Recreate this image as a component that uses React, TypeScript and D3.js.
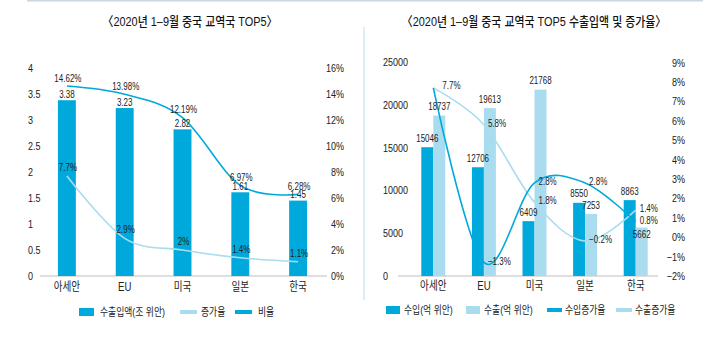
import React from 'react';
import * as d3 from 'd3';

// ---------- data ----------
const categories = ['아세안', 'EU', '미국', '일본', '한국'];

// left chart
const tradeTotal = [3.38, 3.23, 2.82, 1.61, 1.45];
const tradeTotalLabels = ['3.38', '3.23', '2.82', '1.61', '1.45'];
const tradeGrowth = [7.7, 2.9, 2, 1.4, 1.1];
const tradeGrowthLabels = ['7.7%', '2.9%', '2%', '1.4%', '1.1%'];
const tradeShare = [14.62, 13.98, 12.19, 6.97, 6.28];
const tradeShareLabels = ['14.62%', '13.98%', '12.19%', '6.97%', '6.28%'];
const leftTicks = [0, 0.5, 1, 1.5, 2, 2.5, 3, 3.5, 4];
const leftTickLabels = ['0', '0.5', '1', '1.5', '2', '2.5', '3', '3.5', '4'];
const leftPctTicks = [0, 2, 4, 6, 8, 10, 12, 14, 16];

// right chart
const importsV = [15046, 12706, 6409, 8550, 8863];
const exportsV = [18737, 19613, 21768, 7253, 5662];
const importGrowth = [7.7, -1.3, 2.8, 2.8, 0.8];
const exportGrowth = [7.7, 5.8, 1.8, -0.2, 1.4];
const importGrowthLabels = ['7.7%', '−1.3%', '2.8%', '2.8%', '0.8%'];
const exportGrowthLabels = ['', '5.8%', '1.8%', '−0.2%', '1.4%'];
const rightTicks = [0, 5000, 10000, 15000, 20000, 25000];
const rightPctTicks = [-2, -1, 0, 1, 2, 3, 4, 5, 6, 7, 8, 9];

const titleLeft = '〈2020년 1–9월 중국 교역국 TOP5〉';
const titleRight = '〈2020년 1–9월 중국 교역국 TOP5 수출입액 및 증가율〉';
const legendLeft = ['수출입액(조 위안)', '증가율', '비율'];
const legendRight = ['수입(억 위안)', '수출(억 위안)', '수입증가율', '수출증가율'];

// ---------- style ----------
const DARK = '#00a9dc';
const LIGHT = '#aadcf0';
const FONT = "'Liberation Sans','Noto Sans CJK KR',sans-serif";
const TXT = '#222';

type TProps = {
  x: number; y: number; children: React.ReactNode; size?: number;
  anchor?: 'start' | 'middle' | 'end'; sx?: number; fill?: string; weight?: number | string;
};
// y is the vertical centre of the text
function T({ x, y, children, size = 10, anchor = 'middle', sx = 0.8, fill = TXT, weight = 400 }: TProps) {
  return (
    <text
      transform={`translate(${x},${y + size * 0.36}) scale(${sx},1)`}
      fontSize={size}
      textAnchor={anchor}
      fontFamily={FONT}
      fill={fill}
      fontWeight={weight}
    >
      {children}
    </text>
  );
}

const pct = (v: number) => (v < 0 ? '−' + Math.abs(v) + '%' : v + '%');

function LeftChart() {
  const x = d3.scaleBand<string>().domain(categories).range([38, 327]).paddingInner(0.69).paddingOuter(0.345);
  const cx = (c: string) => (x(c) as number) + x.bandwidth() / 2;
  const yL = d3.scaleLinear().domain([0, 4]).range([276, 68]);
  const yR = d3.scaleLinear().domain([0, 16]).range([276, 68]);
  const curve = d3.curveCardinal.tension(0);
  const line = d3.line<number>().x((_, i) => cx(categories[i])).y((d) => yR(d)).curve(curve);

  return (
    <g>
      <T x={190} y={21} size={13} sx={0.84} fill="#111" weight={500}>{titleLeft}</T>
      {leftTicks.map((t, i) => (
        <T key={'l' + i} x={28} y={yL(t)} size={11} anchor="start" sx={0.82}>{leftTickLabels[i]}</T>
      ))}
      {leftPctTicks.map((t) => (
        <T key={'r' + t} x={344} y={yR(t)} size={11} anchor="end" sx={0.82}>{t + '%'}</T>
      ))}
      <line x1={40} x2={327} y1={yL(0)} y2={yL(0)} stroke="#bdbdbd" strokeWidth={1} />
      {categories.map((c, i) => (
        <rect key={c} x={x(c)} y={yL(tradeTotal[i])} width={x.bandwidth()} height={yL(0) - yL(tradeTotal[i])} fill={DARK} />
      ))}
      <path d={line(tradeGrowth) || ''} fill="none" stroke={LIGHT} strokeWidth={1.6} />
      <path d={line(tradeShare) || ''} fill="none" stroke={DARK} strokeWidth={1.6} />
      {categories.map((c, i) => (
        <T key={'bl' + c} x={cx(c)} y={yL(tradeTotal[i]) - 6} size={10}>{tradeTotalLabels[i]}</T>
      ))}
      {categories.map((c, i) => (
        <T key={'sl' + c} x={cx(c) + 1} y={yR(tradeShare[i]) - 8} size={10}>{tradeShareLabels[i]}</T>
      ))}
      {categories.map((c, i) => (
        <T key={'gl' + c} x={cx(c) + 1} y={yR(tradeGrowth[i]) - 8.5} size={10}>{tradeGrowthLabels[i]}</T>
      ))}
      {categories.map((c) => (
        <T key={'x' + c} x={cx(c)} y={287} size={12} sx={0.8}>{c}</T>
      ))}
      {/* legend */}
      <rect x={79} y={308} width={15} height={8} fill={DARK} />
      <T x={100} y={312} size={11} anchor="start" sx={0.8}>{legendLeft[0]}</T>
      <rect x={180} y={310} width={17} height={4} fill={LIGHT} />
      <T x={201} y={312} size={11} anchor="start" sx={0.8}>{legendLeft[1]}</T>
      <rect x={235} y={310} width={17} height={4} fill={DARK} />
      <T x={258} y={312} size={11} anchor="start" sx={0.8}>{legendLeft[2]}</T>
    </g>
  );
}

function RightChart() {
  const x = d3.scaleBand<string>().domain(categories).range([408, 661]).paddingInner(0.526).paddingOuter(0.263);
  const sub = d3.scaleBand<string>().domain(['imp', 'exp']).range([0, x.bandwidth()]);
  const cx = (c: string) => (x(c) as number) + x.bandwidth() / 2;
  const yL = d3.scaleLinear().domain([0, 25000]).range([276, 62]);
  const yR = d3.scaleLinear().domain([-2, 9]).range([276, 62.7]);
  const curve = d3.curveCardinal.tension(0);
  const line = d3.line<number>().x((_, i) => cx(categories[i])).y((d) => yR(d)).curve(curve);
  // label nudge for the 한국 export value (sits inside bar top in the reference)
  const expLabelDy = [0, 0, 0, 0, 16];

  return (
    <g>
      <T x={534} y={21} size={13} sx={0.84} fill="#111" weight={500}>{titleRight}</T>
      {rightTicks.map((t) => (
        <T key={'l' + t} x={383} y={yL(t)} size={11} anchor="start" sx={0.82}>{String(t)}</T>
      ))}
      {rightPctTicks.map((t) => (
        <T key={'r' + t} x={685} y={yR(t)} size={11} anchor="end" sx={0.82}>{pct(t)}</T>
      ))}
      <line x1={398} x2={658} y1={yL(0)} y2={yL(0)} stroke="#bdbdbd" strokeWidth={1} />
      {categories.map((c, i) => (
        <g key={c}>
          <rect x={(x(c) as number) + (sub('imp') as number)} y={yL(importsV[i])} width={sub.bandwidth()} height={yL(0) - yL(importsV[i])} fill={DARK} />
          <rect x={(x(c) as number) + (sub('exp') as number)} y={yL(exportsV[i])} width={sub.bandwidth()} height={yL(0) - yL(exportsV[i])} fill={LIGHT} />
        </g>
      ))}
      <path d={line(exportGrowth) || ''} fill="none" stroke={LIGHT} strokeWidth={1.6} />
      <path d={line(importGrowth) || ''} fill="none" stroke={DARK} strokeWidth={1.6} />
      {categories.map((c, i) => (
        <g key={'bl' + c}>
          <T x={(x(c) as number) + (sub('imp') as number) + sub.bandwidth() / 2} y={yL(importsV[i]) - 9} size={10}>{String(importsV[i])}</T>
          <T x={(x(c) as number) + (sub('exp') as number) + sub.bandwidth() / 2} y={yL(exportsV[i]) - 9 + expLabelDy[i]} size={10}>{String(exportsV[i])}</T>
        </g>
      ))}
      {categories.map((c, i) => (
        <g key={'gl' + c}>
          {exportGrowthLabels[i] && (
            <T x={cx(c) + 4} y={yR(exportGrowth[i]) - 1.5} size={10} anchor="start">{exportGrowthLabels[i]}</T>
          )}
          <T x={cx(c) + (i === 0 ? 9 : 4)} y={yR(importGrowth[i]) - (i === 0 ? 3 : 1.5)} size={10} anchor="start">{importGrowthLabels[i]}</T>
        </g>
      ))}
      {categories.map((c) => (
        <T key={'x' + c} x={cx(c)} y={286} size={12} sx={0.8}>{c}</T>
      ))}
      {/* legend */}
      <rect x={386} y={306} width={14} height={8} fill={DARK} />
      <T x={404} y={310} size={11} anchor="start" sx={0.8}>{legendRight[0]}</T>
      <rect x={466} y={306} width={14} height={8} fill={LIGHT} />
      <T x={484} y={310} size={11} anchor="start" sx={0.8}>{legendRight[1]}</T>
      <rect x={547} y={308} width={15} height={4} fill={DARK} />
      <T x={565} y={310} size={11} anchor="start" sx={0.8}>{legendRight[2]}</T>
      <rect x={616} y={308} width={16} height={4} fill={LIGHT} />
      <T x={635} y={310} size={11} anchor="start" sx={0.8}>{legendRight[3]}</T>
    </g>
  );
}

export default function App() {
  return (
    <svg
      width={713}
      height={343}
      style={{ position: 'absolute', left: 0, top: 0, background: '#fff' }}
    >
      <rect x={0} y={0} width={713} height={343} fill="#fff" />
      <line x1={27} x2={703} y1={0.5} y2={0.5} stroke="#cdd6dd" strokeWidth={2} />
      <line x1={364} x2={364} y1={27} y2={300} stroke="#b3e0f2" strokeWidth={1} />
      <LeftChart />
      <RightChart />
    </svg>
  );
}
